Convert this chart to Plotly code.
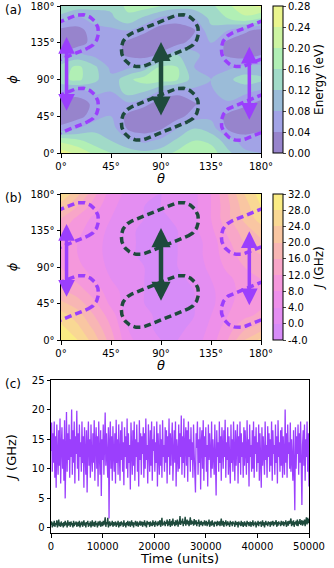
import numpy as np
import plotly.graph_objects as go

# ---------------- data ----------------
theta_deg = [0, 15, 30, 45, 60, 75, 90, 105, 120, 135, 150, 165, 180]
phi_deg = [0, 15, 30, 45, 60, 75, 90, 105, 120, 135, 150, 165, 180]

# Energy landscape (eV), rows = phi, cols = theta
energy_eV = [
    [0.26, 0.23, 0.19, 0.16, 0.14, 0.13, 0.14, 0.17, 0.19, 0.18, 0.13, 0.09, 0.08],
    [0.19, 0.17, 0.14, 0.12, 0.09, 0.07, 0.09, 0.13, 0.16, 0.15, 0.10, 0.06, 0.06],
    [0.05, 0.08, 0.11, 0.10, 0.035, 0.02, 0.035, 0.08, 0.12, 0.10, 0.035, 0.02, 0.035],
    [0.015, 0.025, 0.06, 0.08, 0.03, 0.01, 0.01, 0.025, 0.06, 0.07, 0.03, 0.01, 0.01],
    [0.025, 0.015, 0.05, 0.07, 0.07, 0.05, 0.02, 0.015, 0.035, 0.07, 0.07, 0.05, 0.025],
    [0.07, 0.06, 0.09, 0.08, 0.14, 0.12, 0.07, 0.05, 0.07, 0.07, 0.11, 0.09, 0.07],
    [0.15, 0.17, 0.13, 0.09, 0.15, 0.18, 0.18, 0.16, 0.10, 0.08, 0.11, 0.14, 0.13],
    [0.14, 0.17, 0.13, 0.07, 0.07, 0.10, 0.17, 0.16, 0.08, 0.06, 0.07, 0.09, 0.09],
    [0.05, 0.09, 0.07, 0.06, 0.035, 0.02, 0.05, 0.12, 0.09, 0.06, 0.035, 0.02, 0.04],
    [0.01, 0.015, 0.06, 0.06, 0.03, 0.01, 0.01, 0.025, 0.06, 0.08, 0.03, 0.01, 0.01],
    [0.025, 0.025, 0.06, 0.07, 0.08, 0.05, 0.02, 0.015, 0.035, 0.11, 0.08, 0.05, 0.025],
    [0.11, 0.07, 0.10, 0.11, 0.15, 0.11, 0.07, 0.06, 0.08, 0.13, 0.16, 0.19, 0.16],
    [0.14, 0.14, 0.13, 0.13, 0.17, 0.18, 0.16, 0.14, 0.14, 0.15, 0.19, 0.23, 0.25],
]

# Exchange coupling map J (GHz), rows = phi, cols = theta
J_map_GHz = [
    [31, 28, 22, 14, 5, 2, 0, 0, 2, 6, 12, 20, 25],
    [29, 25, 19, 12, 4, 1, -1, -1, 1, 5, 10, 15, 18],
    [26, 22, 16, 10, 3, 1, -1, -1, 0, 4, 8, 11, 13],
    [21, 18, 13, 7, 2, 0, -1, -2, 0, 3, 7, 10, 11],
    [17, 14, 10, 6, 2, 0, -1, -1, 0, 3, 7, 9, 11],
    [14, 11, 8, 4, 1, 0, -1, -1, 1, 4, 7, 10, 12],
    [12, 9, 6, 3, 1, 0, -1, 0, 2, 5, 9, 12, 14],
    [11, 8, 5, 3, 1, -1, -1, 0, 2, 6, 10, 14, 16],
    [12, 8, 5, 3, 1, -1, -1, 0, 2, 6, 11, 16, 19],
    [13, 9, 6, 3, 1, -1, -1, 0, 3, 7, 13, 18, 22],
    [16, 11, 7, 4, 1, 0, -1, 1, 3, 8, 15, 21, 26],
    [22, 16, 10, 5, 2, 0, 0, 1, 3, 8, 15, 22, 28],
    [28, 21, 13, 6, 3, 1, 0, 1, 3, 8, 16, 24, 30],
]

# Time series (c), sampled every 125 time units
time_units = list(range(0, 50001, 125))
J_purple_GHz = [
    13.0, 17.8, 9.5, 16.0, 11.0, 18.0, 8.5, 15.5, 6.8, 17.5, 12.0, 9.0, 16.5, 10.5, 18.5, 7.5, 14.0, 17.0, 10.0, 15.0,
    8.0, 18.2, 5.0, 14.5, 19.6, 9.5, 16.0, 11.5, 17.5, 8.5, 15.0, 12.0, 20.0, 9.0, 16.5, 11.0, 18.0, 7.5, 15.5, 12.5,
    19.8, 10.0, 16.0, 8.0, 17.5, 12.0, 14.5, 9.5, 18.0, 11.0, 15.5, 6.8, 17.0, 12.5, 9.0, 16.5, 6.0, 14.0, 18.0, 10.5,
    15.0, 8.5, 17.5, 12.0, 9.5, 16.0, 11.0, 18.2, 8.0, 14.5, 17.0, 10.0, 15.5, 7.0, 18.0, 12.5, 9.0, 16.5, 5.4, 15.0,
    11.5, 17.5, 9.0, 14.0, 19.5, 10.5, 16.0, 12.0, 8.5, 17.0, 1.6, 14.5, 18.0, 10.0, 15.5, 8.0, 17.2, 12.5, 9.5, 16.0,
    7.5, 18.3, 11.0, 15.0, 9.0, 17.5, 13.0, 8.0, 16.5, 11.5, 18.0, 9.5, 14.5, 7.2, 17.0, 12.0, 15.5, 10.0, 18.5, 8.5,
    16.0, 11.0, 14.0, 6.5, 17.8, 12.5, 9.0, 16.5, 10.5, 18.0, 8.0, 15.0, 12.0, 17.5, 9.5, 14.5, 7.0, 18.2, 11.5, 16.0,
    9.0, 15.5, 12.5, 17.0, 8.5, 16.0, 10.0, 18.5, 11.5, 14.0, 7.5, 17.5, 12.0, 9.5, 16.5, 10.5, 18.0, 8.0, 15.0, 13.0,
    17.2, 9.5, 14.5, 11.0, 18.0, 7.0, 16.0, 12.5, 9.0, 17.5, 10.5, 15.0, 8.5, 18.2, 12.0, 14.0, 9.5, 17.0, 11.0, 16.5,
    7.5, 15.5, 12.0, 18.5, 9.0, 16.0, 10.5, 14.5, 17.8, 8.0, 13.0, 16.5, 11.0, 18.0, 7.0, 15.0, 12.5, 9.5, 17.5, 10.0,
    16.0, 12.0, 19.0, 9.0, 15.5, 11.0, 18.5, 8.5, 14.0, 17.0, 10.5, 16.5, 7.8, 18.0, 12.0, 15.0, 9.5, 17.0, 11.5, 14.5,
    8.5, 17.5, 12.5, 10.0, 6.0, 16.0, 13.5, 18.0, 9.0, 15.0, 11.0, 17.0, 6.5, 14.5, 16.5, 10.0, 18.2, 8.0, 15.5, 12.0,
    17.0, 9.5, 14.0, 7.0, 17.5, 11.5, 16.0, 12.5, 8.5, 18.0, 10.0, 15.0, 13.0, 9.0, 17.5, 11.0, 5.5, 16.5, 12.0, 14.5,
    9.5, 18.0, 11.0, 15.5, 8.0, 17.0, 13.0, 10.0, 16.5, 12.0, 18.3, 8.5, 14.5, 11.5, 17.0, 9.0, 15.5, 12.5, 7.5, 17.5,
    11.0, 15.0, 9.5, 18.0, 12.5, 8.0, 16.5, 10.5, 14.0, 17.5, 7.5, 15.5, 11.0, 18.0, 9.0, 16.0, 12.0, 14.5, 8.5, 17.0,
    10.5, 16.5, 13.0, 9.0, 18.2, 11.0, 15.0, 7.0, 17.5, 12.0, 14.0, 9.5, 16.5, 10.0, 18.0, 8.5, 15.5, 12.5, 17.0, 9.5,
    14.5, 11.0, 17.5, 8.0, 16.0, 12.0, 6.8, 17.0, 10.5, 15.5, 13.0, 9.0, 18.0, 11.5, 14.0, 8.5, 17.2, 12.0, 16.0, 9.5,
    15.0, 10.5, 18.0, 8.0, 16.5, 12.5, 14.0, 9.0, 17.5, 11.0, 15.5, 7.5, 18.2, 12.0, 14.5, 9.5, 16.5, 10.5, 17.0, 8.5,
    15.5, 12.0, 9.0, 20.0, 11.0, 16.0, 8.5, 17.5, 12.5, 14.5, 10.0, 17.8, 9.5, 15.0, 12.0, 8.0, 16.5, 11.5, 3.0, 17.0,
    10.0, 15.5, 12.5, 17.5, 9.0, 16.0, 11.0, 18.0, 8.5, 3.9, 14.0, 16.5, 10.5, 17.5, 8.0, 15.0, 12.0, 18.0, 9.5, 16.0,
    7.0,
]
J_green_GHz = [
    0.5, 1.1, 0.1, 0.9, 0.3, 1.2, 0.2, 0.8, 0.5, 1.3, 0.1, 0.7, 1.4, 0.3, 0.9, 0.2, 1.1, 0.4, 0.8, 0.1,
    1.0, 0.3, 1.2, 0.5, 0.9, 0.1, 1.3, 0.4, 0.7, 1.0, 0.2, 1.1, 0.5, 0.8, 0.1, 1.2, 0.3, 0.9, 0.6, 1.1,
    0.2, 0.8, 1.0, 0.3, 1.2, 0.1, 0.9, 0.5, 1.1, 0.2, 0.7, 1.3, 0.4, 0.9, 0.1, 1.0, 0.6, 1.2, 0.2, 0.8,
    0.4, 1.1, 0.1, 0.9, 1.3, 0.3, 0.7, 1.0, 0.2, 1.2, 0.5, 0.8, 0.1, 1.1, 0.4, 0.9, 1.2, 0.2, 0.7, 1.0,
    0.3, 1.2, 0.5, 0.9, 1.8, 0.2, 1.0, 0.6, 1.7, 0.1, 0.8, 1.1, 0.3, 0.9, 0.5, 1.2, 0.2, 1.0, 0.4, 0.8,
    1.1, 0.2, 0.9, 0.5, 1.2, 0.1, 0.7, 1.0, 0.3, 1.1, 0.6, 0.9, 0.2, 1.3, 0.4, 0.8, 0.1, 1.0, 0.5, 1.2,
    0.3, 0.9, 1.1, 0.2, 0.8, 1.3, 0.4, 1.0, 0.1, 0.9, 0.6, 1.2, 0.3, 0.7, 1.1, 0.2, 0.9, 0.5, 1.2, 0.4,
    0.8, 1.1, 0.2, 1.0, 0.5, 1.3, 0.3, 0.9, 0.1, 1.2, 0.6, 0.8, 1.0, 0.2, 1.1, 0.4, 0.9, 0.3, 1.3, 0.5,
    1.0, 0.2, 1.2, 0.6, 0.9, 0.3, 1.1, 0.5, 0.8, 1.3, 0.2, 1.0, 1.7, 0.4, 0.9, 0.6, 1.2, 0.3, 1.0, 0.7,
    1.4, 0.3, 1.1, 0.5, 1.5, 0.2, 0.9, 1.2, 0.4, 1.6, 0.6, 1.0, 0.3, 1.3, 0.5, 0.9, 1.4, 0.2, 1.1, 0.6,
    2.0, 0.5, 1.2, 0.8, 1.6, 0.3, 1.1, 0.7, 1.9, 0.4, 1.0, 1.4, 0.6, 1.2, 0.3, 0.9, 1.8, 0.5, 1.3, 0.7,
    1.1, 0.4, 1.5, 0.6, 0.9, 1.3, 0.3, 1.0, 0.7, 1.4, 0.2, 1.1, 0.5, 1.2, 0.8, 0.3, 1.0, 0.6, 1.3, 0.4,
    0.9, 1.2, 0.3, 1.0, 0.6, 1.4, 0.2, 0.8, 1.1, 0.4, 1.3, 0.5, 0.9, 0.2, 1.1, 0.7, 1.0, 0.3, 1.2, 0.5,
    0.8, 1.1, 0.3, 1.0, 1.6, 0.4, 0.9, 1.2, 0.2, 1.0, 0.6, 1.3, 0.3, 0.8, 1.1, 0.5, 0.9, 0.2, 1.2, 0.6,
    1.0, 0.3, 1.1, 0.7, 0.9, 0.2, 1.2, 0.5, 0.8, 1.0, 0.1, 1.1, 0.6, 0.9, 0.3, 1.2, 0.4, 1.0, 0.2, 0.8,
    1.1, 0.4, 0.9, 0.2, 1.2, 0.6, 1.0, 0.3, 0.8, 1.1, 0.2, 1.0, 0.5, 1.3, 0.3, 0.9, 0.6, 1.1, 0.1, 0.9,
    0.5, 1.2, 0.3, 1.0, 0.7, 1.1, 0.2, 0.9, 1.3, 0.4, 1.0, 0.1, 0.8, 1.2, 0.5, 0.9, 0.3, 1.1, 0.6, 1.0,
    0.2, 1.1, 0.5, 0.9, 1.2, 0.3, 1.0, 0.6, 0.8, 1.3, 0.2, 1.0, 0.4, 1.1, 0.7, 0.9, 0.3, 1.2, 0.5, 0.8,
    1.1, 0.3, 1.0, 0.6, 1.3, 0.2, 0.9, 1.1, 0.4, 1.2, 0.7, 1.0, 1.6, 0.3, 1.1, 0.5, 1.3, 0.2, 1.0, 0.6,
    1.2, 0.4, 1.4, 0.3, 1.1, 0.7, 1.5, 0.5, 1.0, 1.3, 0.4, 1.2, 0.6, 1.4, 0.3, 1.1, 1.8, 0.6, 1.7, 0.8,
    1.5,
]

angle_ticks = [0, 45, 90, 135, 180]
angle_labels = ["0°", "45°", "90°", "135°", "180°"]
energy_ticks = [0.00, 0.04, 0.08, 0.12, 0.16, 0.20, 0.24, 0.28]
J_ticks = [-4, 0, 4, 8, 12, 16, 20, 24, 28, 32]
time_ticks = [0, 10000, 20000, 30000, 40000, 50000]
Jt_ticks = [0, 5, 10, 15, 20, 25]

# dashed capsule outlines: (theta, phi) of the two cap centres
dark_loops = [((70, 37), (108, 58)), ((70, 127), (108, 148))]
purple_loops = [((160, 37), (198, 58)), ((-20, 37), (18, 58)),
                ((160, 127), (198, 148)), ((-20, 127), (18, 148))]
# double arrows: (theta, phi_low, phi_high)
arrows_a = {"dark": [(90, 44, 136)], "purple": [(5, 50, 142), (169.5, 39, 130)]}
arrows_b = {"dark": [(90, 46.5, 138)], "purple": [(5, 51.5, 143), (169.5, 41, 134)]}

# ---------------- styling ----------------
W, H = 334, 568
FONT = "DejaVu Sans"
PURPLE = "#9b3ffd"
DARK = "#1e4a3c"
energy_colors = ["#9784cc", "#a2a3e6", "#9bbcd8", "#a1dac8", "#b1efb5", "#cdf4a2", "#eaf58e"]
J_colors = ["#d78cf8", "#e48ef2", "#ee90ea", "#f598dc", "#f8a6c8", "#f8b6b4", "#f9c6a2", "#f9d894", "#faec84"]


def stepped(colors):
    n = len(colors)
    cs = []
    for i, c in enumerate(colors):
        cs.append([i / n, c])
        cs.append([(i + 1) / n, c])
    return cs


def capsule(c1, c2, r_px, sx, sy, n=60):
    u1, v1 = c1[0] * sx, c1[1] * sy
    u2, v2 = c2[0] * sx, c2[1] * sy
    ang = np.arctan2(v2 - v1, u2 - u1)
    t2 = np.linspace(ang - np.pi / 2, ang + np.pi / 2, n)
    t1 = np.linspace(ang + np.pi / 2, ang + 3 * np.pi / 2, n)
    u = np.concatenate([u2 + r_px * np.cos(t2), u1 + r_px * np.cos(t1), [u2 + r_px * np.cos(t2[0])]])
    v = np.concatenate([v2 + r_px * np.sin(t2), v1 + r_px * np.sin(t1), [v2 + r_px * np.sin(t2[0])]])
    return u / sx, v / sy


def px2paper_x(a, b):
    return [a / W, b / W]


def px2paper_y(top, bottom):
    return [1 - bottom / H, 1 - top / H]


dom_a_x = px2paper_x(61, 261)
dom_a_y = px2paper_y(6, 153)
dom_b_y = px2paper_y(194, 340)
dom_c_x = px2paper_x(51, 309)
dom_c_y = px2paper_y(380, 533)

fig = go.Figure()

# contour (a)
fig.add_trace(go.Contour(
    x=theta_deg, y=phi_deg, z=energy_eV, xaxis="x", yaxis="y",
    contours=dict(start=0.0, end=0.28, size=0.04, coloring="fill"),
    zmin=0.0, zmax=0.28, colorscale=stepped(energy_colors),
    line=dict(width=0, smoothing=1.0),
    colorbar=dict(x=273 / W, xanchor="left", xpad=0, ypad=0, thickness=10,
                  len=(153 - 6) / H, lenmode="fraction", y=1 - (6 + 153) / 2 / H, yanchor="middle",
                  outlinewidth=1, outlinecolor="black", ticks="outside", ticklen=3, tickwidth=1,
                  tickvals=energy_ticks, ticktext=[f"{v:.2f}" for v in energy_ticks],
                  tickfont=dict(size=10, family=FONT, color="black"),
                  title=dict(text="Energy (eV)", side="right", font=dict(size=12, family=FONT, color="black"))),
    hoverinfo="skip",
))

# contour (b)
fig.add_trace(go.Contour(
    x=theta_deg, y=phi_deg, z=J_map_GHz, xaxis="x2", yaxis="y2",
    contours=dict(start=-4, end=32, size=4, coloring="fill"),
    zmin=-4, zmax=32, colorscale=stepped(J_colors),
    line=dict(width=0, smoothing=1.0),
    colorbar=dict(x=273 / W, xanchor="left", xpad=0, ypad=0, thickness=10,
                  len=(340 - 194) / H, lenmode="fraction", y=1 - (194 + 340) / 2 / H, yanchor="middle",
                  outlinewidth=1, outlinecolor="black", ticks="outside", ticklen=3, tickwidth=1,
                  tickvals=J_ticks, ticktext=[f"{v:.1f}" for v in J_ticks],
                  tickfont=dict(size=10, family=FONT, color="black"),
                  title=dict(text="<i>J</i> (GHz)", side="right", font=dict(size=12, family=FONT, color="black"))),
    hoverinfo="skip",
))

# loops on both maps
sx = 200 / 180
for xa, ya, sy in [("x", "y", 147 / 180), ("x2", "y2", 146 / 180)]:
    for loops, col in [(dark_loops, DARK), (purple_loops, PURPLE)]:
        for c1, c2 in loops:
            lx, ly = capsule(c1, c2, 17.5, sx, sy)
            fig.add_trace(go.Scatter(x=lx, y=ly, xaxis=xa, yaxis=ya, mode="lines",
                                     line=dict(color=col, width=3.5, dash="7px,4px"),
                                     showlegend=False, hoverinfo="skip"))

# time series (c)
fig.add_trace(go.Scatter(x=time_units, y=J_purple_GHz, xaxis="x3", yaxis="y3", mode="lines",
                         line=dict(color=PURPLE, width=1.3), showlegend=False))
fig.add_trace(go.Scatter(x=time_units, y=J_green_GHz, xaxis="x3", yaxis="y3", mode="lines",
                         line=dict(color=DARK, width=1.4), showlegend=False))

annotations = []
for (xa, ya, arrows) in [("x", "y", arrows_a), ("x2", "y2", arrows_b)]:
    for key, col, w, s in [("dark", DARK, 4.5, 0.85), ("purple", PURPLE, 3.5, 0.95)]:
        for th, lo, hi in arrows[key]:
            annotations.append(dict(x=th, y=hi, ax=th, ay=lo, xref=xa, yref=ya, axref=xa, ayref=ya,
                                    text="", showarrow=True, arrowhead=2, startarrowhead=2,
                                    arrowside="end+start", arrowwidth=w, arrowsize=s, startarrowsize=s,
                                    arrowcolor=col))

for lab, ytop in [("(a)", 1), ("(b)", 189), ("(c)", 375)]:
    annotations.append(dict(text=lab, x=3 / W, y=1 - ytop / H, xref="paper", yref="paper",
                            xanchor="left", yanchor="top", showarrow=False,
                            font=dict(size=12, family=FONT, color="black")))

axis_common = dict(showline=True, linecolor="black", linewidth=1, mirror=True, ticks="outside",
                   ticklen=3.5, tickwidth=1, tickcolor="black", showgrid=False, zeroline=False,
                   tickfont=dict(size=10, family=FONT, color="black"))
title_font = dict(size=13, family=FONT, color="black")

ang_x = dict(axis_common, range=[0, 180], tickvals=angle_ticks, ticktext=angle_labels)
ang_y = dict(axis_common, range=[0, 180], tickvals=angle_ticks, ticktext=angle_labels)

fig.update_layout(
    width=W, height=H, margin=dict(l=0, r=0, t=0, b=0, autoexpand=False),
    paper_bgcolor="white", plot_bgcolor="white", showlegend=False,
    font=dict(family=FONT, color="black"),
    xaxis=dict(ang_x, domain=dom_a_x, anchor="y",
               title=dict(text="<i>θ</i>", font=title_font, standoff=2)),
    yaxis=dict(ang_y, domain=dom_a_y, anchor="x",
               title=dict(text="<i>ϕ</i>", font=title_font, standoff=9)),
    xaxis2=dict(ang_x, domain=dom_a_x, anchor="y2",
                title=dict(text="<i>θ</i>", font=title_font, standoff=2)),
    yaxis2=dict(ang_y, domain=dom_b_y, anchor="x2",
                title=dict(text="<i>ϕ</i>", font=title_font, standoff=9)),
    xaxis3=dict(axis_common, domain=dom_c_x, anchor="y3", range=[0, 50000], tickvals=time_ticks,
                ticktext=[str(t) for t in time_ticks],
                title=dict(text="Time (units)", font=title_font, standoff=2)),
    yaxis3=dict(axis_common, domain=dom_c_y, anchor="x3", range=[-0.85, 25], tickvals=Jt_ticks,
                title=dict(text="<i>J</i> (GHz)", font=title_font, standoff=12)),
    annotations=annotations,
)

fig.write_html("out.html", config={"displayModeBar": False},
               post_script="document.body.style.margin='0px';")
